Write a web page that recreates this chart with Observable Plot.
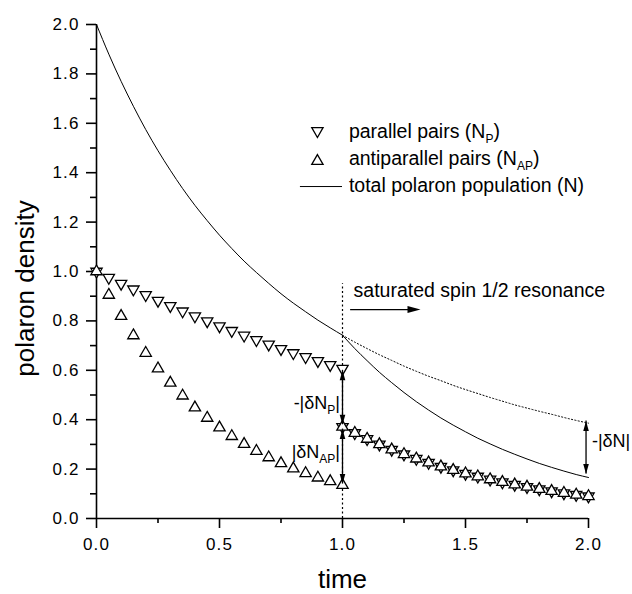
<!DOCTYPE html>
<html><head><meta charset="utf-8">
<script src="https://cdn.jsdelivr.net/npm/d3@7"></script>
<script src="https://cdn.jsdelivr.net/npm/@observablehq/plot@0.6"></script>
<style>
html,body{margin:0;padding:0;background:#fff;}
svg{font-family:"Liberation Sans",Arial,Helvetica,sans-serif;}
</style></head><body><div id="chart"></div>
<script>
// ---- data ----
const timeBefore = [0,0.05,0.1,0.15,0.2,0.25,0.3,0.35,0.4,0.45,0.5,0.55,0.6,0.65,0.7,0.75,0.8,0.85,0.9,0.95,1.0];
const parallelBefore = [1.000,0.975,0.951,0.928,0.905,0.882,0.861,0.839,0.819,0.799,0.779,0.760,0.741,0.723,0.705,0.687,0.670,0.654,0.638,0.622,0.607];
const antiparallelBefore = [1.000,0.905,0.819,0.741,0.670,0.607,0.549,0.497,0.449,0.407,0.368,0.333,0.301,0.273,0.247,0.223,0.202,0.183,0.165,0.150,0.135];
const totalBefore = [2.000,1.880,1.770,1.669,1.575,1.489,1.410,1.336,1.268,1.206,1.147,1.093,1.042,0.996,0.952,0.910,0.872,0.837,0.803,0.772,0.742];

const timeAfter = [1.0,1.05,1.1,1.15,1.2,1.25,1.3,1.35,1.4,1.45,1.5,1.55,1.6,1.65,1.7,1.75,1.8,1.85,1.9,1.95,2.0];
const pairsAfter = [0.371,0.346,0.322,0.300,0.279,0.260,0.242,0.226,0.210,0.196,0.182,0.170,0.158,0.147,0.137,0.128,0.119,0.111,0.103,0.096,0.090];
const totalSaturated = [0.742,0.688,0.639,0.592,0.550,0.510,0.473,0.439,0.407,0.378,0.351,0.325,0.302,0.280,0.260,0.241,0.223,0.207,0.192,0.178,0.166];
const totalUnsaturated = [0.742,0.714,0.688,0.663,0.640,0.617,0.596,0.576,0.558,0.539,0.522,0.506,0.490,0.475,0.460,0.447,0.434,0.422,0.409,0.397,0.386];

const xTicks = [0,0.5,1.0,1.5,2.0];
const xMinorTicks = [0.25,0.75,1.25,1.75];
const yTicks = [0,0.2,0.4,0.6,0.8,1.0,1.2,1.4,1.6,1.8,2.0];
const yMinorTicks = [0.1,0.3,0.5,0.7,0.9,1.1,1.3,1.5,1.7,1.9];

const saturationTime = 1.0;
const gapArrows = [
  {x: 1.0, top: 0.600, bottom: 0.380},
  {x: 1.0, top: 0.362, bottom: 0.140},
  {x: 1.99, top: 0.395, bottom: 0.180}
];

// ---- build tables ----
const parallelRows = timeBefore.map((t,i)=>({t, v: parallelBefore[i]}))
  .concat(timeAfter.map((t,i)=>({t, v: pairsAfter[i]})));
const antiRows = timeBefore.map((t,i)=>({t, v: antiparallelBefore[i]}))
  .concat(timeAfter.map((t,i)=>({t, v: pairsAfter[i]})));
const totalRows = timeBefore.map((t,i)=>({t, v: totalBefore[i], seg: "a"}))
  .concat(timeAfter.map((t,i)=>({t, v: totalSaturated[i], seg: "b"})));
const unsatRows = timeAfter.map((t,i)=>({t, v: totalUnsaturated[i]}));

// ---- symbols ----
const triDown = {draw(ctx, size){ const y = -Math.sqrt(size/(Math.sqrt(3)*3));
  ctx.moveTo(0,-2*y); ctx.lineTo(Math.sqrt(3)*y, y); ctx.lineTo(-Math.sqrt(3)*y, y); ctx.closePath(); }};
const headUp = {draw(ctx){ ctx.moveTo(0,0); ctx.lineTo(-2.8,10); ctx.lineTo(2.8,10); ctx.closePath(); }};
const headDown = {draw(ctx){ ctx.moveTo(0,0); ctx.lineTo(-2.8,-10); ctx.lineTo(2.8,-10); ctx.closePath(); }};
const headRight = {draw(ctx){ ctx.moveTo(0,0); ctx.lineTo(-13,-3.5); ctx.lineTo(-13,3.5); ctx.closePath(); }};

const R = 4.2, SW = 1.3, AX = 1.6;
const legendX = 0.898, legendTextX = 1.028, legendRows = [1.563, 1.453, 1.344];
const fmt = d3.format(".1f");

const plot = Plot.plot({
  width: 632, height: 594,
  marginLeft: 96, marginRight: 44, marginTop: 24, marginBottom: 76,
  x: {domain: [0, 2]},
  y: {domain: [0, 2]},
  style: {fontFamily: '"Liberation Sans",Arial,Helvetica,sans-serif', background: "white", color: "black", overflow: "visible"},
  marks: [
    Plot.ruleX([saturationTime], {y1: 0, y2: 0.95, strokeDasharray: "2,2.5", strokeWidth: 1.2}),
    Plot.line(unsatRows, {x: "t", y: "v", strokeDasharray: "1.2,2.2", strokeWidth: 1, curve: "monotone-x"}),
    Plot.line(totalRows, {x: "t", y: "v", z: "seg", strokeWidth: 1, curve: "monotone-x"}),
    Plot.axisX(xTicks, {tickSize: 10, tickPadding: 9, tickFormat: fmt, fontSize: 17, strokeWidth: AX, label: null}),
    Plot.axisX(xMinorTicks, {tickSize: 5, tickFormat: () => "", strokeWidth: AX, label: null}),
    Plot.axisY(yTicks, {tickSize: 10, tickPadding: 7, tickFormat: fmt, fontSize: 17, strokeWidth: AX, label: null}),
    Plot.axisY(yMinorTicks, {tickSize: 6, tickFormat: () => "", strokeWidth: AX, label: null}),
    Plot.ruleX([0], {y1: 0, y2: 2, strokeWidth: AX}),
    Plot.ruleY([0], {x1: 0, x2: 2, strokeWidth: AX}),
    Plot.dot(parallelRows, {x: "t", y: "v", symbol: triDown, r: R, stroke: "black", fill: "white", strokeWidth: SW}),
    Plot.dot(antiRows, {x: "t", y: "v", symbol: "triangle", r: R, stroke: "black", fill: "white", strokeWidth: SW}),
    // gap arrows
    Plot.ruleX(gapArrows, {x: "x", y1: "top", y2: "bottom", strokeWidth: 1.3}),
    Plot.dot(gapArrows, {x: "x", y: "top", symbol: headUp, fill: "black", r: 3}),
    Plot.dot(gapArrows, {x: "x", y: "bottom", symbol: headDown, fill: "black", r: 3}),
    // saturation arrow
    Plot.ruleY([0.846], {x1: 1.033, x2: 1.28, strokeWidth: 1.3}),
    Plot.dot([0], {x: 1.317, y: 0.846, symbol: headRight, fill: "black", r: 3}),
    Plot.text(["saturated spin 1/2 resonance"], {x: 1.045, y: 0.895, textAnchor: "start", lineAnchor: "bottom", fontSize: 19.5}),
    // legend symbols
    Plot.dot([0], {x: legendX, y: legendRows[0] + 0.006, symbol: triDown, r: R, stroke: "black", fill: "white", strokeWidth: SW}),
    Plot.dot([0], {x: legendX, y: legendRows[1] - 0.006, symbol: "triangle", r: R, stroke: "black", fill: "white", strokeWidth: SW}),
    Plot.ruleY([legendRows[2]], {x1: 0.829, x2: 1.0, strokeWidth: 1}),
    // axis titles
    Plot.text(["polaron density"], {frameAnchor: "left", dx: -71, dy: 17, rotate: -90, textAnchor: "middle", lineAnchor: "middle", fontSize: 26}),
    Plot.text(["time"], {frameAnchor: "bottom", dy: 69, textAnchor: "middle", lineAnchor: "bottom", fontSize: 26})
  ]
});

document.getElementById("chart").appendChild(plot);

// tick labels are set slightly wide in the reference
d3.select(plot).selectAll('g[aria-label$="tick label"] text').attr("letter-spacing", "1.1px");

// rich texts with subscripts, positioned via Plot's scales
const sx = plot.scale("x"), sy = plot.scale("y");
const svg = d3.select(plot);
function rich(parts, xv, yv, anchor, size, subSize) {
  const t = svg.append("text")
    .attr("x", sx.apply(xv)).attr("y", sy.apply(yv))
    .attr("dy", "0.32em").attr("text-anchor", anchor)
    .attr("font-size", size).attr("fill", "black");
  let shifted = false;
  for (const [s, sub] of parts) {
    const sp = t.append("tspan").text(s);
    if (sub && !shifted) { sp.attr("dy", 5).attr("font-size", subSize); shifted = true; }
    else if (!sub && shifted) { sp.attr("dy", -5); shifted = false; }
  }
}
rich([["parallel pairs (N"],["P",1],[")"]], legendTextX, legendRows[0], "start", 19.5, 12);
rich([["antiparallel pairs (N"],["AP",1],[")"]], legendTextX, legendRows[1], "start", 19.5, 12);
rich([["total polaron population (N)"]], legendTextX, legendRows[2], "start", 19.5, 12);
rich([["-|δN"],["P",1],["|"]], 0.992, 0.466, "end", 18, 12);
rich([["|δN"],["AP",1],["|"]], 0.992, 0.267, "end", 18, 12);
rich([["-|δN|"]], 2.016, 0.31, "start", 18, 12);
</script></body></html>
